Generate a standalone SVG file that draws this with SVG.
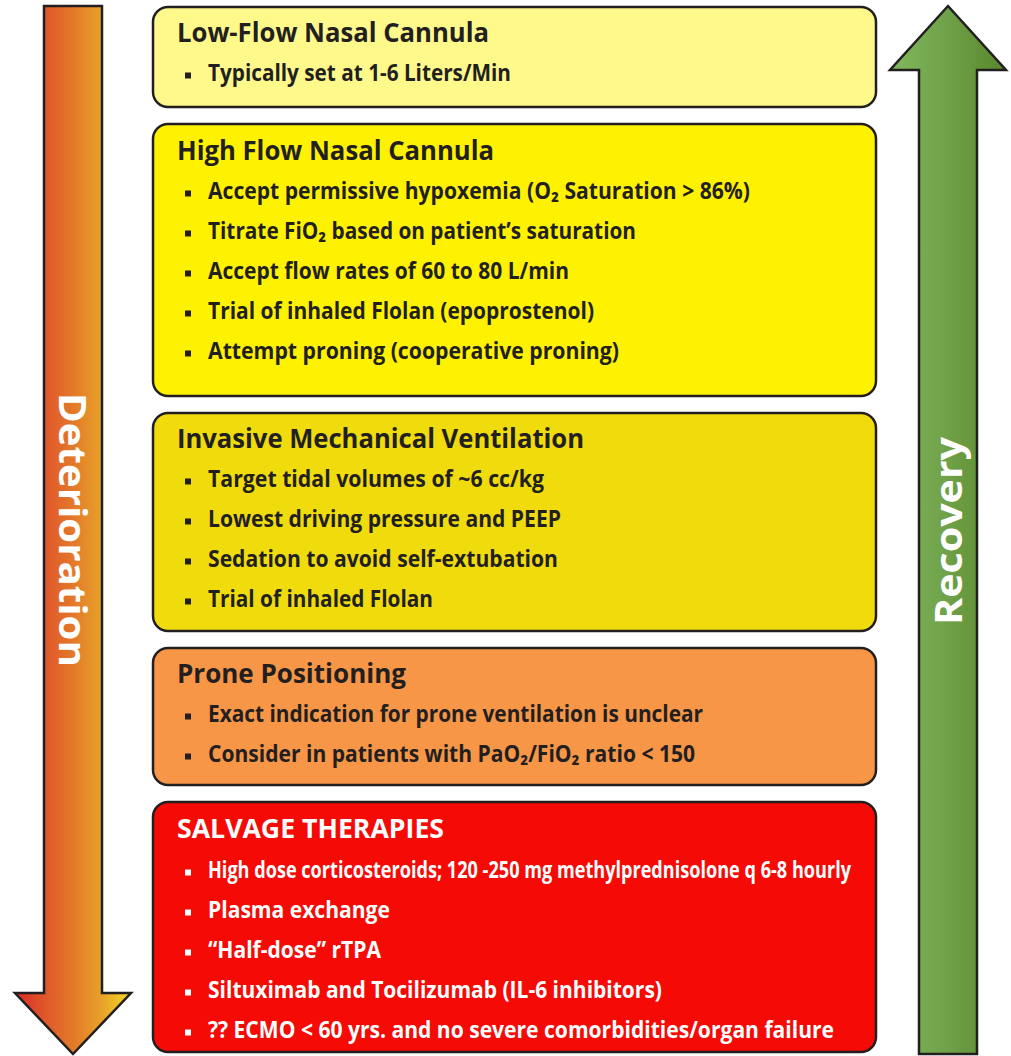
<svg xmlns="http://www.w3.org/2000/svg" width="1011" height="1056" viewBox="0 0 1011 1056">
<defs>
<linearGradient id="gDet" gradientUnits="userSpaceOnUse" x1="15" y1="0" x2="131" y2="0">
<stop offset="0" stop-color="#DB2B25"/>
<stop offset="0.25" stop-color="#E0552A"/>
<stop offset="0.5" stop-color="#E3792A"/>
<stop offset="0.75" stop-color="#E8A22A"/>
<stop offset="1" stop-color="#F3D81F"/>
</linearGradient>
<linearGradient id="gRec" gradientUnits="userSpaceOnUse" x1="890" y1="0" x2="1006" y2="0">
<stop offset="0" stop-color="#82B85C"/>
<stop offset="0.5" stop-color="#6FA148"/>
<stop offset="1" stop-color="#58872C"/>
</linearGradient>
<style>
.arrow{stroke:#231F20;stroke-width:2.5;stroke-linejoin:miter}
.box{stroke:#231F20;stroke-width:2.5}
.t{font-family:"Open Sans","Noto Sans","DejaVu Sans",sans-serif;font-weight:700;font-size:26px;fill:#231F20}
.b{font-family:"Open Sans","Noto Sans","DejaVu Sans",sans-serif;font-weight:700;font-size:23px;fill:#231F20}
.w{fill:#FFFFFF}
.sq{fill:#231F20}
.sqw{fill:#FFFFFF}
.lab{font-family:"Open Sans","Noto Sans","DejaVu Sans",sans-serif;font-weight:700;font-size:38px;fill:#FFFFFF}
</style>
</defs>

<g id="deterioration-arrow">
<polygon class="arrow" fill="url(#gDet)" points="44,6 102,6 102,993 131,993 73,1054 15,993 44,993"/>
<text class="lab" transform="translate(73,530) rotate(90)" x="0" y="14" text-anchor="middle" textLength="274" lengthAdjust="spacingAndGlyphs">Deterioration</text>
</g>

<g id="recovery-arrow">
<polygon class="arrow" fill="url(#gRec)" points="948,6 1006,70 977,70 977,1054 919,1054 919,70 890,70"/>
<text class="lab" transform="translate(948,531) rotate(-90)" x="0" y="14" text-anchor="middle" textLength="188" lengthAdjust="spacingAndGlyphs">Recovery</text>
</g>

<g id="low-flow">
<rect class="box" x="153" y="7" width="723" height="100" rx="15" fill="#FEF98A"/>
<text class="t" x="177" y="42" textLength="312" lengthAdjust="spacingAndGlyphs">Low-Flow Nasal Cannula</text>
<rect class="sq" x="185" y="72.5" width="6" height="6"/>
<text class="b" x="208" y="81" textLength="303" lengthAdjust="spacingAndGlyphs">Typically set at 1-6 Liters/Min</text>
</g>

<g id="high-flow">
<rect class="box" x="153" y="124" width="723" height="272" rx="15" fill="#FFF200"/>
<text class="t" x="177" y="160" textLength="317" lengthAdjust="spacingAndGlyphs">High Flow Nasal Cannula</text>
<rect class="sq" x="185" y="190.5" width="6" height="6"/>
<text class="b" x="208" y="199" textLength="542" lengthAdjust="spacingAndGlyphs">Accept permissive hypoxemia (O₂ Saturation &gt; 86%)</text>
<rect class="sq" x="185" y="230.5" width="6" height="6"/>
<text class="b" x="208" y="239" textLength="428" lengthAdjust="spacingAndGlyphs">Titrate FiO₂ based on patient’s saturation</text>
<rect class="sq" x="185" y="270.5" width="6" height="6"/>
<text class="b" x="208" y="279" textLength="361" lengthAdjust="spacingAndGlyphs">Accept flow rates of 60 to 80 L/min</text>
<rect class="sq" x="185" y="310.5" width="6" height="6"/>
<text class="b" x="208" y="319" textLength="386" lengthAdjust="spacingAndGlyphs">Trial of inhaled Flolan (epoprostenol)</text>
<rect class="sq" x="185" y="350.5" width="6" height="6"/>
<text class="b" x="208" y="359" textLength="411" lengthAdjust="spacingAndGlyphs">Attempt proning (cooperative proning)</text>
</g>

<g id="invasive">
<rect class="box" x="153" y="413" width="723" height="218" rx="15" fill="#F0DC0C"/>
<text class="t" x="177" y="448" textLength="407" lengthAdjust="spacingAndGlyphs">Invasive Mechanical Ventilation</text>
<rect class="sq" x="185" y="478.5" width="6" height="6"/>
<text class="b" x="208" y="487" textLength="336" lengthAdjust="spacingAndGlyphs">Target tidal volumes of ~6 cc/kg</text>
<rect class="sq" x="185" y="518.5" width="6" height="6"/>
<text class="b" x="208" y="527" textLength="353" lengthAdjust="spacingAndGlyphs">Lowest driving pressure and PEEP</text>
<rect class="sq" x="185" y="558.5" width="6" height="6"/>
<text class="b" x="208" y="567" textLength="350" lengthAdjust="spacingAndGlyphs">Sedation to avoid self-extubation</text>
<rect class="sq" x="185" y="598.5" width="6" height="6"/>
<text class="b" x="208" y="607" textLength="225" lengthAdjust="spacingAndGlyphs">Trial of inhaled Flolan</text>
</g>

<g id="prone">
<rect class="box" x="153" y="648" width="723" height="137" rx="15" fill="#F79646"/>
<text class="t" x="177" y="683" textLength="229" lengthAdjust="spacingAndGlyphs">Prone Positioning</text>
<rect class="sq" x="185" y="713.5" width="6" height="6"/>
<text class="b" x="208" y="722" textLength="495" lengthAdjust="spacingAndGlyphs">Exact indication for prone ventilation is unclear</text>
<rect class="sq" x="185" y="753.5" width="6" height="6"/>
<text class="b" x="208" y="762" textLength="487" lengthAdjust="spacingAndGlyphs">Consider in patients with PaO₂/FiO₂ ratio &lt; 150</text>
</g>

<g id="salvage">
<rect class="box" x="153" y="802" width="723" height="250" rx="15" fill="#F50A05"/>
<text class="t w" x="177" y="838" textLength="267" lengthAdjust="spacingAndGlyphs">SALVAGE THERAPIES</text>
<rect class="sqw" x="185" y="869.5" width="6" height="6"/>
<text class="b w" transform="translate(208,878) scale(0.68,1)" x="0" y="0" textLength="945.6" lengthAdjust="spacingAndGlyphs">High dose corticosteroids; 120 -250 mg methylprednisolone q 6-8 hourly</text>
<rect class="sqw" x="185" y="909.5" width="6" height="6"/>
<text class="b w" transform="translate(208,918) scale(0.68,1)" x="0" y="0" textLength="267.6" lengthAdjust="spacingAndGlyphs">Plasma exchange</text>
<rect class="sqw" x="185" y="949.5" width="6" height="6"/>
<text class="b w" transform="translate(208,958) scale(0.68,1)" x="0" y="0" textLength="254.4" lengthAdjust="spacingAndGlyphs">“Half-dose” rTPA</text>
<rect class="sqw" x="185" y="989.5" width="6" height="6"/>
<text class="b w" transform="translate(208,998) scale(0.68,1)" x="0" y="0" textLength="667.6" lengthAdjust="spacingAndGlyphs">Siltuximab and Tocilizumab (IL-6 inhibitors)</text>
<rect class="sqw" x="185" y="1029.5" width="6" height="6"/>
<text class="b w" transform="translate(208,1038) scale(0.68,1)" x="0" y="0" textLength="920.6" lengthAdjust="spacingAndGlyphs">?? ECMO &lt; 60 yrs. and no severe comorbidities/organ failure</text>
</g>
</svg>
